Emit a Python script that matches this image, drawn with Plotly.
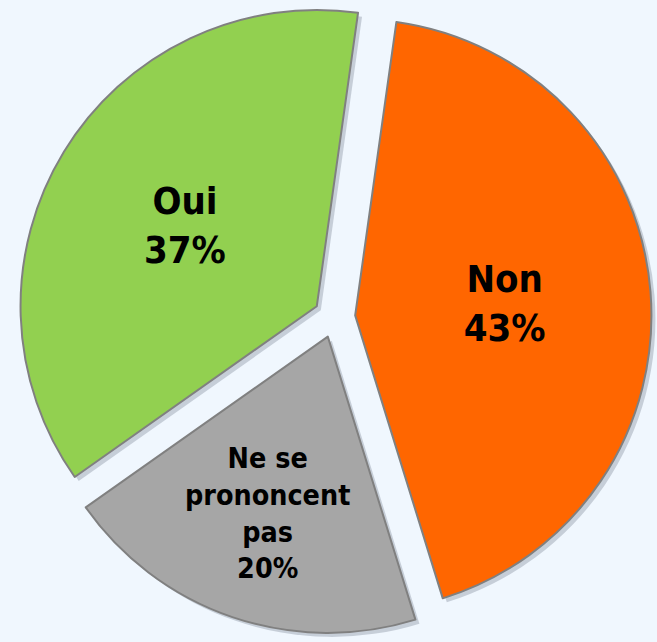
import plotly.graph_objects as go

labels = ['Non', 'Ne se<br>prononcent<br>pas', 'Oui']
values = [43, 20, 37]
colors = ['#FF6600', '#A6A6A6', '#92D050']
text_sizes = [38, 29, 38]

bg_color = '#F0F7FE'
pull = 0.07

# plot area: 645 x 638 px
w_px, h_px = 645, 638
shift = 4

fig = go.Figure()

# soft shadow behind the slices
fig.add_trace(go.Pie(
    labels=labels,
    values=values,
    sort=False,
    direction='clockwise',
    rotation=8,
    pull=pull,
    marker=dict(colors=['rgba(90,100,120,0.28)'] * 3, line=dict(width=0)),
    textinfo='none',
    hoverinfo='skip',
    showlegend=False,
    domain=dict(x=[2 * shift / w_px, 1], y=[0, 1 - shift / h_px]),
))

fig.add_trace(go.Pie(
    labels=labels,
    values=values,
    sort=False,
    direction='clockwise',
    rotation=8,
    pull=pull,
    marker=dict(colors=colors, line=dict(color='#808080', width=2)),
    texttemplate='<b>%{label}<br>%{value}%</b>',
    textposition='inside',
    insidetextorientation='horizontal',
    textfont=dict(family='DejaVu Sans Condensed, DejaVu Sans', size=text_sizes, color='black'),
    hoverinfo='label+percent',
    showlegend=False,
    domain=dict(x=[0, 1], y=[shift / h_px, 1]),
))

fig.update_layout(
    width=657,
    height=642,
    margin=dict(l=12, r=0, t=0, b=4),
    paper_bgcolor=bg_color,
    plot_bgcolor=bg_color,
    showlegend=False,
)

# drop the default page margin so the figure fills the window
fig.write_html(
    'out.html',
    config={'displayModeBar': False},
    post_script="document.body.style.margin='0';document.body.style.background='%s';" % bg_color,
)
